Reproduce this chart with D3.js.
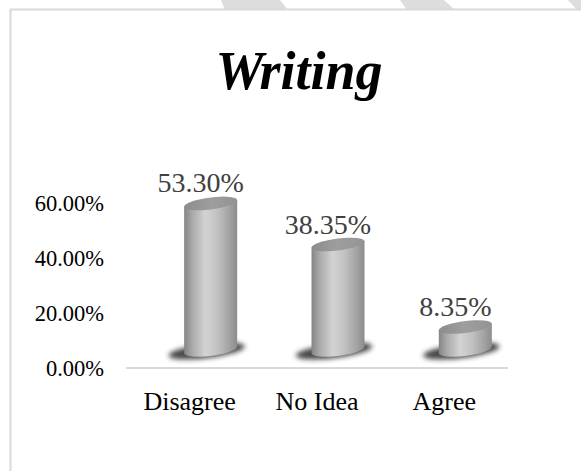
<!DOCTYPE html>
<html>
<head>
<meta charset="utf-8">
<script src="https://cdn.jsdelivr.net/npm/d3@7"></script>
<style>
  html, body { margin: 0; padding: 0; background: #ffffff; }
  svg { display: block; }
</style>
</head>
<body>
<script>
// ---- data ----
const title = "Writing";
const categories = ["Disagree", "No Idea", "Agree"];
const values = [53.30, 38.35, 8.35];
const valueLabels = ["53.30%", "38.35%", "8.35%"];
const yTicks = [0, 20, 40, 60];
const yTickLabels = ["0.00%", "20.00%", "40.00%", "60.00%"];

const W = 581, H = 471;
const svg = d3.select("body").append("svg").attr("width", W).attr("height", H);
const defs = svg.append("defs");

// page decoration (top strip)
const strip = [[221,0,280,0,288,10,225,10],[400,0,444,0,455,10,407,10],[568,0,581,0,581,10,577,10]];
svg.selectAll("polygon.strip").data(strip).enter().append("polygon")
  .attr("points", d => `${d[0]},${d[1]} ${d[2]},${d[3]} ${d[4]},${d[5]} ${d[6]},${d[7]}`)
  .attr("fill", "#dddddd");

// chart border
svg.append("path").attr("d", `M10.5,${H} L10.5,9.5 L${W},9.5`)
  .attr("fill", "none").attr("stroke", "#d9d9d9").attr("stroke-width", 2);

// gradients
const body = defs.append("linearGradient").attr("id", "body").attr("x1", 0).attr("x2", 1).attr("y1", 0).attr("y2", 0);
[["0%", "#858585"], ["15%", "#a9a9a9"], ["40%", "#d3d3d3"], ["62%", "#c2c2c2"], ["85%", "#a3a3a3"], ["100%", "#8c8c8c"]]
  .forEach(s => body.append("stop").attr("offset", s[0]).attr("stop-color", s[1]));
const topG = defs.append("linearGradient").attr("id", "topg").attr("x1", 0).attr("x2", 1).attr("y1", 0).attr("y2", 0);
[["0%", "#8c8c8c"], ["50%", "#9e9e9e"], ["100%", "#939393"]]
  .forEach(s => topG.append("stop").attr("offset", s[0]).attr("stop-color", s[1]));
const blur = defs.append("filter").attr("id", "blur").attr("x", "-50%").attr("y", "-100%").attr("width", "200%").attr("height", "300%");
blur.append("feGaussianBlur").attr("stdDeviation", 2.5);

// scales
const x = d3.scaleBand().domain(categories).range([126, 508]).paddingInner(0).paddingOuter(0);
const y = d3.scaleLinear().domain([0, 60]).range([368, 203]);

// axis baseline
svg.append("line").attr("x1", 126).attr("x2", 508).attr("y1", 368).attr("y2", 368)
  .attr("stroke", "#d9d9d9").attr("stroke-width", 2);

// y axis labels
const yAxis = d3.axisLeft(y).tickValues(yTicks).tickFormat((d, i) => yTickLabels[i]).tickSize(0).tickPadding(0);
const yg = svg.append("g").attr("transform", "translate(104,0)").call(yAxis);
yg.select(".domain").remove();
yg.selectAll("text").attr("font-family", "'Liberation Serif', 'Times New Roman', serif")
  .attr("font-size", 22.5).attr("fill", "#000").attr("dy", "0.34em");

// x axis labels
const xAxis = d3.axisBottom(x).tickSize(0).tickPadding(0);
const xg = svg.append("g").attr("transform", "translate(0,392)").call(xAxis);
xg.select(".domain").remove();
xg.selectAll("text").attr("font-family", "'Liberation Serif', 'Times New Roman', serif")
  .attr("font-size", 26).attr("fill", "#000").attr("dy", "0.71em");

// cylinders (3D depth offset)
const dx = 21, dy = -18, rw = 26.5, ry = 6;
const cyl = svg.selectAll("g.cyl").data(categories).enter().append("g").attr("class", "cyl")
  .attr("transform", (d) => `translate(${x(d) + x.bandwidth() / 2 + dx},0)`);

cyl.each(function (d, i) {
  const g = d3.select(this);
  const yb = y(0) + dy, yt = y(values[i]) + dy;
  // shadow
  g.append("ellipse").attr("cx", -4).attr("cy", yb + 1).attr("rx", rw + 12).attr("ry", 7)
    .attr("transform", `rotate(-7,-4,${yb + 1})`)
    .attr("fill", "#333333").attr("filter", "url(#blur)").attr("opacity", 0.9);
  const s = g.append("g").attr("transform", `translate(0,${yb}) skewY(-7) translate(0,${-yb})`);
  s.append("path")
    .attr("d", `M${-rw},${yt} L${-rw},${yb} A${rw},${ry} 0 0 0 ${rw},${yb} L${rw},${yt} Z`)
    .attr("fill", "url(#body)");
  s.append("ellipse").attr("cx", 0).attr("cy", yt).attr("rx", rw).attr("ry", ry)
    .attr("fill", "url(#topg)");
});

// value labels
svg.selectAll("text.val").data(categories).enter().append("text").attr("class", "val")
  .attr("x", d => x(d) + x.bandwidth() / 2 + 11)
  .attr("y", (d, i) => y(values[i]) - 29)
  .attr("text-anchor", "middle")
  .attr("font-family", "'Liberation Serif', 'Times New Roman', serif")
  .attr("font-size", 28).attr("fill", "#404040")
  .text((d, i) => valueLabels[i]);

// title
svg.append("text").attr("x", 299).attr("y", 89).attr("text-anchor", "middle")
  .attr("font-family", "'Liberation Serif', 'Times New Roman', serif")
  .attr("font-weight", "bold").attr("font-style", "italic")
  .attr("font-size", 54).attr("fill", "#000").text(title);
</script>
</body>
</html>
